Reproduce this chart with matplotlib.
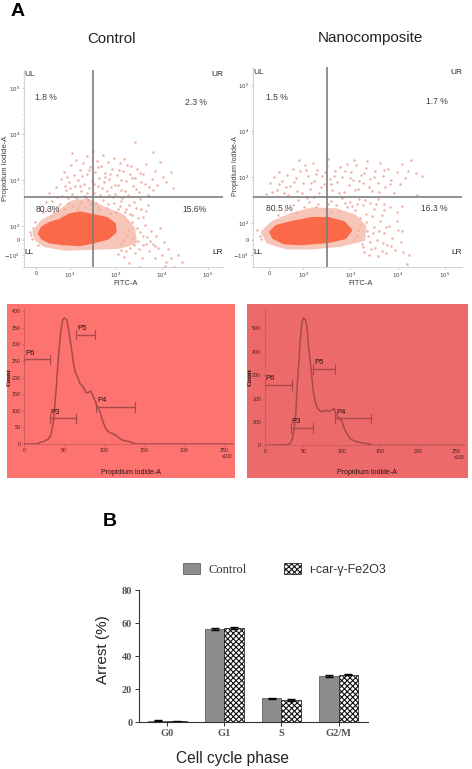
"""Annexin V dot plots, cell cycle histograms and arrest bars."""

import matplotlib

matplotlib.use("Agg")

import matplotlib.pyplot as plt
from matplotlib.patches import Patch, Rectangle
from matplotlib.ticker import FixedLocator

plt.rcParams["font.family"] = ["Liberation Sans", "DejaVu Sans"]
plt.rcParams["hatch.linewidth"] = 0.8

W, H = 472, 769

# dot plots: positions in decades of the biexponential axes
CONTROL_CORE = [(1.34, 1.84), (1.40, 1.96), (1.56, 2.05), (1.78, 2.12), (2.00, 2.24), (2.22, 2.28),
                (2.51, 2.22), (2.80, 2.16), (2.96, 2.04), (2.98, 1.88), (2.82, 1.74), (2.51, 1.66),
                (2.22, 1.60), (1.86, 1.62), (1.56, 1.66), (1.40, 1.74)]
CONTROL_HALO = [(1.22, 1.88), (1.40, 2.10), (1.75, 2.30), (2.05, 2.52), (2.40, 2.56), (2.75, 2.38),
                (3.15, 2.22), (3.38, 1.95), (3.42, 1.64), (3.05, 1.54), (2.50, 1.52), (1.90, 1.50),
                (1.45, 1.58), (1.26, 1.72)]
CONTROL_CELLS = [
    (1.42, 2.30), (1.55, 2.72), (1.62, 2.55), (1.70, 2.85), (1.74, 2.42), (1.80, 3.02), (1.83, 2.66),
    (1.88, 3.18), (1.92, 2.78), (1.95, 2.50), (1.98, 2.95), (2.02, 3.32), (2.05, 2.70), (2.08, 3.10),
    (2.10, 2.86), (2.13, 3.44), (2.16, 2.58), (2.18, 3.00), (2.22, 3.22), (2.25, 2.76), (2.28, 3.38),
    (2.30, 2.92), (2.33, 2.66), (2.36, 3.52), (2.38, 3.12), (2.42, 2.82), (2.44, 3.28), (2.47, 2.98),
    (2.50, 3.62), (2.52, 2.72), (2.55, 3.18), (2.58, 3.42), (2.60, 2.88), (2.63, 3.05), (2.66, 2.68),
    (2.68, 3.30), (2.72, 3.55), (2.74, 2.95), (2.77, 3.16), (2.80, 2.76), (2.83, 3.40), (2.86, 3.02),
    (2.90, 2.84), (2.92, 3.25), (2.95, 3.48), (2.98, 2.70), (3.02, 3.10), (3.05, 2.90), (3.08, 3.36),
    (3.12, 2.78), (3.15, 3.20), (3.18, 3.46), (3.22, 2.98), (3.26, 2.68), (3.30, 3.14), (3.33, 3.30),
    (3.38, 2.86), (3.42, 3.05), (3.46, 3.24), (3.50, 2.74), (3.55, 2.96), (3.60, 3.12), (3.66, 3.34),
    (3.72, 2.84), (3.78, 3.02), (3.84, 3.20), (3.90, 2.90), (3.96, 3.40), (4.02, 3.06), (4.10, 2.96),
    (4.20, 3.18), (4.24, 2.82), (3.42, 3.82), (3.80, 3.60), (2.05, 3.58),
    (1.50, 2.38), (1.66, 2.30), (1.78, 2.48), (1.86, 2.38), (1.96, 2.60), (2.06, 2.44), (2.15, 2.36),
    (2.24, 2.52), (2.32, 2.42), (2.40, 2.56), (2.48, 2.38), (2.56, 2.50), (2.64, 2.34), (2.72, 2.56),
    (2.80, 2.40), (2.88, 2.28), (2.96, 2.50), (3.04, 2.36), (3.12, 2.54), (3.20, 2.30), (3.28, 2.46),
    (3.36, 2.24), (3.44, 2.40), (3.52, 2.58), (3.60, 2.20), (3.70, 2.46), (3.14, 2.60), (2.34, 2.60),
    (3.05, 1.40), (3.12, 1.62), (3.18, 1.32), (3.24, 1.78), (3.30, 1.52), (3.36, 2.08), (3.42, 1.42),
    (3.48, 1.68), (3.52, 1.88), (3.56, 1.30), (3.60, 1.58), (3.64, 2.02), (3.68, 1.76), (3.72, 1.46),
    (3.76, 1.90), (3.80, 1.62), (3.84, 1.30), (3.88, 1.78), (3.92, 1.52), (3.96, 1.96), (4.00, 1.38),
    (4.04, 1.66), (4.10, 1.22), (4.14, 1.50), (4.20, 1.30), (4.26, 1.12), (4.34, 1.36), (4.06, 1.14),
    (4.44, 1.22), (3.28, 1.20), (3.50, 1.10), (1.24, 2.08), (1.30, 1.58), (1.18, 1.72), (1.12, 1.88),
    (1.58, 2.21), (1.71, 2.62), (1.89, 2.87), (1.93, 3.07), (2.11, 2.62), (2.21, 2.87), (2.27, 3.08),
    (2.37, 2.71), (2.41, 3.21), (2.53, 2.91), (2.61, 3.28), (2.69, 2.83), (2.76, 3.06), (2.84, 2.67),
    (2.88, 3.13), (2.99, 2.89), (3.07, 3.22), (3.11, 2.99), (3.19, 2.76), (3.24, 3.33), (3.35, 3.04),
    (3.44, 2.81), (3.53, 3.16), (3.63, 2.92), (3.69, 2.67), (3.81, 2.78), (1.47, 2.52), (1.83, 2.24),
    (2.01, 2.82), (2.19, 2.44), (2.43, 2.48), (2.62, 2.42), (2.83, 2.47), (2.93, 2.62), (3.01, 2.30),
    (3.09, 2.44), (3.23, 2.38), (3.31, 2.26), (3.39, 2.52), (3.47, 2.18), (3.55, 2.36), (3.65, 2.32),
    (3.10, 1.48), (3.16, 1.70), (3.22, 1.46), (3.27, 1.92), (3.34, 1.74), (3.39, 1.58), (3.45, 1.96),
    (3.50, 1.50), (3.58, 1.78), (3.66, 1.60), (3.74, 1.68), (3.86, 1.56), (1.16, 1.80), (1.20, 1.96),
]

NANO_CORE = [(1.32, 1.80), (1.44, 1.92), (1.75, 2.00), (2.18, 2.09), (2.53, 2.09), (2.86, 2.00),
             (3.00, 1.84), (2.88, 1.68), (2.53, 1.60), (1.96, 1.55), (1.60, 1.57), (1.38, 1.68)]
NANO_HALO = [(1.14, 1.80), (1.35, 2.00), (1.75, 2.18), (2.20, 2.30), (2.70, 2.28), (3.10, 2.14),
             (3.30, 1.92), (3.28, 1.64), (2.80, 1.52), (2.20, 1.46), (1.65, 1.46), (1.26, 1.58)]
NANO_CELLS = [
    (1.22, 2.62), (1.30, 2.86), (1.38, 3.00), (1.44, 2.72), (1.50, 3.10), (1.56, 2.92), (1.60, 2.66),
    (1.66, 3.04), (1.72, 2.80), (1.78, 3.18), (1.84, 2.98), (1.88, 2.70), (1.94, 3.12), (2.00, 2.86),
    (2.04, 3.26), (2.10, 3.02), (2.14, 2.74), (2.20, 3.30), (2.24, 2.92), (2.30, 3.14), (2.34, 2.66),
    (2.40, 3.02), (2.44, 2.84), (2.50, 3.24), (2.53, 3.38), (2.56, 2.96), (2.62, 2.72), (2.68, 3.12),
    (2.72, 2.88), (2.78, 3.22), (2.82, 3.00), (2.86, 2.68), (2.92, 3.28), (2.96, 2.82), (3.02, 3.10),
    (3.06, 2.94), (3.12, 3.26), (3.16, 2.74), (3.22, 3.04), (3.26, 2.86), (3.32, 3.20), (3.36, 3.34),
    (3.42, 2.96), (3.46, 2.70), (3.52, 3.12), (3.58, 2.86), (3.62, 3.30), (3.68, 3.02), (3.74, 2.78),
    (3.80, 3.18), (3.86, 2.94), (3.92, 2.66), (3.98, 3.10), (4.04, 2.84), (4.10, 3.28), (4.16, 2.98),
    (4.22, 3.12), (4.28, 3.36), (4.38, 3.08), (4.52, 3.02), (4.40, 2.60), (3.08, 3.36), (1.92, 3.36),
    (1.78, 2.38), (1.90, 2.50), (2.02, 2.34), (2.12, 2.46), (2.22, 2.56), (2.32, 2.42), (2.46, 2.30),
    (2.58, 2.48), (2.70, 2.38), (2.82, 2.54), (2.92, 2.34), (3.00, 2.46), (3.10, 2.28), (3.18, 2.52),
    (3.26, 2.38), (3.34, 2.20), (3.42, 2.44), (3.50, 2.30), (3.58, 2.52), (3.66, 2.18), (3.72, 2.40),
    (3.84, 2.34), (3.98, 2.24), (4.10, 2.36), (2.60, 2.24), (3.20, 2.10), (1.46, 2.18),
    (3.08, 1.62), (3.16, 1.84), (3.24, 1.54), (3.32, 2.02), (3.38, 1.72), (3.44, 1.44), (3.50, 1.90),
    (3.56, 1.62), (3.62, 2.04), (3.66, 1.38), (3.72, 1.78), (3.78, 1.52), (3.82, 1.94), (3.88, 1.68),
    (3.94, 1.42), (4.00, 1.84), (4.06, 1.58), (3.40, 1.30), (3.58, 1.28), (3.76, 1.34), (4.12, 1.36),
    (4.24, 1.30), (4.10, 1.82), (3.98, 2.04), (3.28, 1.36), (4.20, 1.10), (1.08, 1.72), (1.02, 1.84),
    (1.34, 2.68), (1.48, 2.84), (1.63, 2.78), (1.69, 2.60), (1.81, 2.88), (1.97, 2.64), (2.07, 3.14),
    (2.17, 2.86), (2.27, 3.06), (2.37, 2.78), (2.47, 3.10), (2.59, 2.84), (2.66, 3.02), (2.75, 2.66),
    (2.89, 3.12), (2.99, 2.98), (3.09, 2.72), (3.19, 2.92), (3.29, 3.08), (3.39, 2.78), (3.49, 3.00),
    (3.61, 2.68), (3.71, 3.14), (3.83, 2.84), (1.62, 2.28), (1.84, 2.22), (2.08, 2.54), (2.28, 2.34),
    (2.52, 2.40), (2.76, 2.26), (2.88, 2.44), (3.04, 2.36), (3.14, 2.42), (3.30, 2.50), (3.46, 2.16),
    (3.54, 2.42), (3.70, 2.28), (3.14, 1.72), (3.20, 1.96), (3.27, 1.48), (3.35, 1.82), (3.41, 1.58),
    (3.47, 1.78), (3.53, 1.46), (3.60, 1.82), (3.69, 1.56), (3.75, 1.92), (3.85, 1.50), (1.10, 1.64),
]

# histograms: DNA content (x100) against count
CONTROL_X = [0, 15, 20, 25, 30, 33, 36, 38, 40, 42, 44, 46, 48, 50, 53, 55, 57, 60, 62, 64, 67, 70, 73,
             77, 80, 83, 86, 90, 95, 98, 102, 106, 110, 115, 120, 125, 130, 135, 140, 261]
CONTROL_COUNT = [0, 0, 5, 8, 15, 25, 60, 110, 170, 240, 300, 345, 375, 380, 375, 350, 320, 270, 235, 215,
                 200, 180, 175, 155, 155, 160, 145, 120, 95, 70, 45, 35, 32, 25, 15, 10, 8, 4, 0, 0]
NANO_X = [0, 30, 33, 36, 38, 40, 42, 44, 46, 48, 50, 53, 55, 57, 59, 61, 63, 66, 69, 73, 77, 80, 83, 87,
          90, 93, 97, 100, 103, 107, 112, 120, 130, 135, 140, 261]
NANO_COUNT = [0, 3, 10, 30, 70, 130, 250, 350, 450, 520, 545, 535, 500, 420, 360, 300, 230, 180, 155, 145,
              145, 150, 145, 150, 158, 130, 115, 105, 75, 50, 25, 15, 8, 7, 0, 0]
HIST_TICKS = [0, 50, 100, 150, 200, 250]
CONTROL_COUNT_TICKS = [0, 50, 100, 150, 200, 250, 300, 350, 400]
NANO_COUNT_TICKS = [0, 100, 200, 300, 400, 500]
CONTROL_GATES = [("P6", 0, 32, 255), ("P3", 32, 65, 77), ("P5", 65, 89, 330), ("P4", 90, 138, 112)]
NANO_GATES = [("P6", 0, 35, 258), ("P3", 34, 63, 75), ("P5", 63, 92, 325), ("P4", 92, 138, 115)]

# arrest bars
PHASES = ["G0", "G1", "S", "G2/M"]
ARREST_CONTROL = [0.8, 56.5, 14.5, 28.0]
ARREST_NANO = [0.7, 57.0, 13.5, 28.7]
ARREST_ERR_CONTROL = [0.3, 0.5, 0.4, 0.6]
ARREST_ERR_NANO = [0.3, 0.5, 0.4, 0.4]
ARREST_TICKS = [0, 20, 40, 60, 80]

GREY = "#3c3c3c"


def px_axes(fig, left, top, right, bottom):
    return fig.add_axes([left / W, 1 - bottom / H, (right - left) / W, (bottom - top) / H])


def px_text(fig, x, y, s, **kwargs):
    kwargs.setdefault("ha", "center")
    kwargs.setdefault("va", "center")
    return fig.text(x / W, 1 - y / H, s, **kwargs)


def dot_plot(fig, box, xlim, ylim, zero, quad, core, halo, cells, pcts, pct_pos):
    ax = px_axes(fig, *box)
    ax.set_xlim(*xlim)
    ax.set_ylim(*ylim)
    ax.fill(*zip(*halo), color="#f8c6b9", lw=2.5, joinstyle="round", zorder=1)
    ax.scatter(*zip(*cells), s=3.2, color="#eeb0a2", lw=0, zorder=2)
    ax.fill(*zip(*core), color="#fb6a48", lw=2.5, joinstyle="round", zorder=3)
    ax.axvline(quad[0], color="#7d7d7d", lw=1.2, zorder=4)
    ax.axhline(quad[1], color="#7d7d7d", lw=1.2, zorder=4)

    ax.set_xticks([zero[0], 2, 3, 4, 5], ["0", "$10^2$", "$10^3$", "$10^4$", "$10^5$"])
    ax.set_yticks([zero[2], zero[1], 2, 3, 4, 5], ["$-10^2$", "0", "$10^2$", "$10^3$", "$10^4$", "$10^5$"])
    ax.tick_params(labelsize=4, length=1.5, width=0.4, color="#999999", labelcolor=GREY, pad=1.5)
    ax.xaxis.set_minor_locator(FixedLocator([xlim[0] + i * 0.1 for i in range(45)]))
    ax.yaxis.set_minor_locator(FixedLocator([ylim[0] + i * 0.1 for i in range(45)]))
    ax.tick_params(which="minor", length=0.8, width=0.3, color="#aaaaaa")
    for side in ("top", "right"):
        ax.spines[side].set_visible(False)
    for side in ("left", "bottom"):
        ax.spines[side].set_color("#c4c4c4")
        ax.spines[side].set_linewidth(0.5)

    for s, x, y, ha in [("UL", 0.0, 0.975, "left"), ("UR", 1.0, 0.975, "right"),
                        ("LL", 0.0, 0.073, "left"), ("LR", 1.0, 0.073, "right")]:
        ax.text(x, y, s, transform=ax.transAxes, ha=ha, va="center", fontsize=6, color="#222222", zorder=5)
    for s, (x, y) in zip(pcts, pct_pos):
        ax.text(x, y, s, ha="center", va="center", fontsize=6.2, color=GREY, zorder=5)


def histogram(fig, box, panel, color, xs, counts, ymax, yticks, gates, xmax=261):
    fig.add_artist(Rectangle((panel[0] / W, 1 - panel[3] / H), (panel[2] - panel[0]) / W,
                             (panel[3] - panel[1]) / H, transform=fig.transFigure, color=color, lw=0, zorder=-1))
    ax = px_axes(fig, *box)
    ax.patch.set_alpha(0)
    ax.plot(xs, counts, color="#a94a4a", lw=1.1)
    ax.set_xlim(0, xmax)
    ax.set_ylim(0, ymax)
    ax.set_xticks(HIST_TICKS)
    ax.set_yticks(yticks)
    ax.tick_params(labelsize=3.8, length=1.5, width=0.4, color="#a94a4a", labelcolor="#4a2020", pad=1.2)
    for side in ("top", "right"):
        ax.spines[side].set_visible(False)
    for side in ("left", "bottom"):
        ax.spines[side].set_color("#c25a5a")
        ax.spines[side].set_linewidth(0.5)
    cap = ymax * 0.035
    for name, x0, x1, y in gates:
        ax.plot([x0, x1], [y, y], color="#a94a4a", lw=1)
        ax.plot([x0, x0], [y - cap, y + cap], color="#a94a4a", lw=0.8)
        ax.plot([x1, x1], [y - cap, y + cap], color="#a94a4a", lw=0.8)
        ax.text(x0 + 1, y + cap * 0.6, name, fontsize=5.5, color="#2e1010", ha="left", va="bottom")
    ax.text(1.0, -0.09, "x100", transform=ax.transAxes, fontsize=3.5, color="#4a2020", ha="right", va="center")


fig = plt.figure(figsize=(W / 100, H / 100), dpi=100, facecolor="white")

px_text(fig, 18, 11, "A", fontsize=14, fontweight="bold", color="black")
px_text(fig, 112, 39, "Control", fontsize=10.8, color="#222222")
px_text(fig, 370, 38, "Nanocomposite", fontsize=11, color="#222222")

dot_plot(fig, (24, 70, 223, 267), (1.0, 5.33), (1.11, 5.39), (1.26, 1.70, 1.37), (2.51, 2.62),
         CONTROL_CORE, CONTROL_HALO, CONTROL_CELLS,
         ["1.8 %", "2.3 %", "80.3%", "15.6%"], [(1.48, 4.79), (4.75, 4.68), (1.51, 2.37), (4.70, 2.37)])
dot_plot(fig, (253, 67, 462, 267), (0.94, 5.36), (1.04, 5.39), (1.28, 1.63, 1.30), (2.50, 2.57),
         NANO_CORE, NANO_HALO, NANO_CELLS,
         ["1.5 %", "1.7 %", "80.5 %", "16.3 %"], [(1.44, 4.73), (4.83, 4.63), (1.49, 2.31), (4.78, 2.31)])

px_text(fig, 6, 168, "Propidium Iodide-A", rotation=90, fontsize=5.5, color=GREY)
px_text(fig, 235.5, 166, "Propidium Iodide-A", rotation=90, fontsize=5, color=GREY)
px_text(fig, 126, 284, "FITC-A", fontsize=5.5, color=GREY)
px_text(fig, 361, 284, "FITC-A", fontsize=5.5, color=GREY)

histogram(fig, (24.3, 308, 233, 444), (7, 304, 235, 478), "#fd7370", CONTROL_X, CONTROL_COUNT, 410,
          CONTROL_COUNT_TICKS, CONTROL_GATES)
histogram(fig, (265, 308, 465, 445.3), (247, 304, 468, 478), "#ec6a6a", NANO_X, NANO_COUNT, 587,
          NANO_COUNT_TICKS, NANO_GATES)
px_text(fig, 9.5, 377, "Count", rotation=90, fontsize=4.8, color="#2e1010", fontfamily="Liberation Serif", fontweight="bold")
px_text(fig, 250, 377, "Count", rotation=90, fontsize=4.8, color="#2e1010", fontfamily="Liberation Serif", fontweight="bold")
px_text(fig, 131, 472, "Propidium Iodide-A", fontsize=5, color="#2e1010")
px_text(fig, 367, 472, "Propidium Iodide-A", fontsize=5, color="#2e1010")

px_text(fig, 110, 522, "B", fontsize=14, fontweight="bold", color="black")

ax = px_axes(fig, 139.3, 590, 367.7, 722.3)
positions = list(range(len(PHASES)))
width = 0.339
err_style = {"lw": 0.8, "capsize": 3, "capthick": 1.0}
ax.bar([p - width / 2 for p in positions], ARREST_CONTROL, width, yerr=ARREST_ERR_CONTROL,
       color="#8c8c8c", edgecolor="#4a4a4a", lw=0.5, error_kw=err_style)
ax.bar([p + width / 2 for p in positions], ARREST_NANO, width, yerr=ARREST_ERR_NANO,
       color="white", edgecolor="#111111", lw=0.5, hatch="xxxxxx", error_kw=err_style)
ax.set_xlim(-0.49, 3.51)
ax.set_ylim(0, 80)
ax.set_xticks(positions, PHASES, fontfamily="Liberation Serif", fontsize=7.5, fontweight="bold", color="#555555")
ax.set_yticks(ARREST_TICKS)
ax.set_yticklabels(ARREST_TICKS, fontfamily="Liberation Serif", fontsize=7.5, fontweight="bold", color="#555555")
ax.tick_params(length=3, width=0.7, color="#333333", pad=2)
for side in ("top", "right"):
    ax.spines[side].set_visible(False)
for side in ("left", "bottom"):
    ax.spines[side].set_color("#333333")
    ax.spines[side].set_linewidth(0.8)

leg = ax.legend(handles=[Patch(facecolor="#8c8c8c", edgecolor="#4a4a4a", lw=0.5, label="Control"),
                         Patch(facecolor="white", edgecolor="#111111", lw=0.5, hatch="xxxxxx", label="\u03b9-car-\u03b3-Fe2O3")],
                ncol=2, frameon=False, loc="lower left", bbox_to_anchor=(0.191, 1.105), borderaxespad=0, borderpad=0,
                handlelength=1.4, handleheight=1.0, handletextpad=0.64, columnspacing=2.95, fontsize=9)
leg.get_texts()[0].set_fontfamily("Liberation Serif")
for t in leg.get_texts():
    t.set_color("#333333")

px_text(fig, 103, 650, "Arrest (%)", rotation=90, fontsize=11, color="#222222")
px_text(fig, 233, 759, "Cell cycle phase", fontsize=11.2, color="#222222")

fig.savefig("out.png", dpi=100)
plt.close(fig)
